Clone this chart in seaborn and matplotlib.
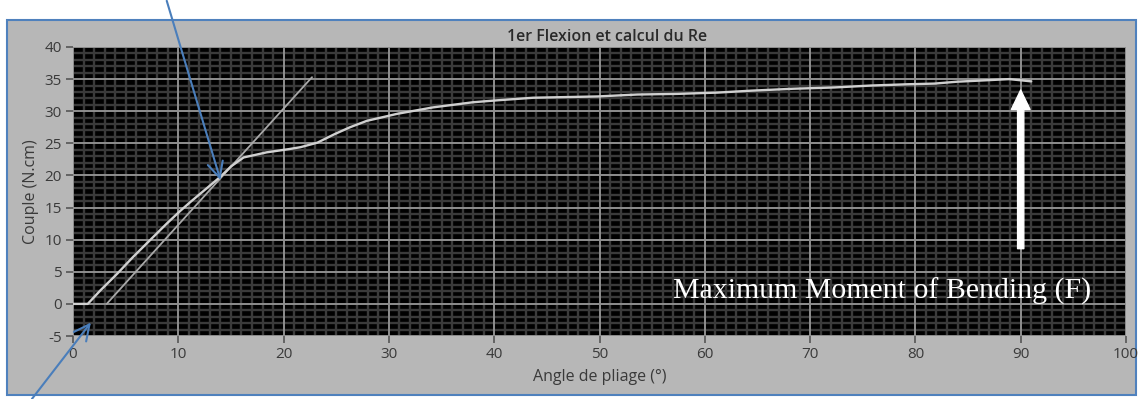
import numpy as np
import pandas as pd
import matplotlib
matplotlib.use("Agg")
import matplotlib.pyplot as plt
from matplotlib.ticker import MultipleLocator
from matplotlib.patches import Rectangle
import seaborn as sns

# ---- data ----
angle = [0, 1.4, 2.6, 4.2, 5.7, 7.3, 8.9, 10.2, 11.1, 12.7, 14.0, 15.0, 16.2, 18.4,
         20.5, 21.6, 23.2, 24.8, 26.3, 27.9, 30.8, 34.2, 38.0, 40.3, 43.7, 49.8,
         53.6, 57.4, 61.2, 64.4, 68.4, 72.3, 75.8, 79.3, 81.8, 84.0, 86.5, 88.9,
         91.0, 91.0]
couple = [0, 0, 2.1, 4.7, 7.3, 9.9, 12.5, 14.5, 15.8, 18.0, 19.8, 21.4, 22.8, 23.6,
          24.1, 24.4, 25.1, 26.4, 27.5, 28.5, 29.6, 30.6, 31.4, 31.7, 32.1, 32.3,
          32.6, 32.7, 32.9, 33.2, 33.5, 33.7, 34.0, 34.2, 34.3, 34.6, 34.8, 35.0,
          35.1, 34.2]
tangent_angle = [3.2, 22.7]
tangent_couple = [0.0, 35.3]
x_ticks = [0, 10, 20, 30, 40, 50, 60, 70, 80, 90, 100]
y_ticks = [-5, 0, 5, 10, 15, 20, 25, 30, 35, 40]
title = "1er Flexion et calcul du Re"
xlabel = "Angle de pliage (°)"
ylabel = "Couple (N.cm)"
note = "Maximum Moment of Bending (F)"

curve = pd.DataFrame({"angle": angle, "couple": couple})
tangent = pd.DataFrame({"angle": tangent_angle, "couple": tangent_couple})

sns.set_theme(style="dark")
plt.rcParams["font.family"] = ["Open Sans", "DejaVu Sans"]
plt.rcParams["axes.unicode_minus"] = False

fig = plt.figure(figsize=(11.39, 3.99), dpi=100, facecolor="white")
# grey instrument panel with blue frame
fig.patches.append(Rectangle((7 / 1139, 4 / 399), 1129 / 1139, 375 / 399,
                             transform=fig.transFigure, facecolor="#b7b7b7",
                             edgecolor="#4f81bd", lw=1.5, zorder=-5))

ax = fig.add_axes([73 / 1139, 63 / 399, 1053 / 1139, 289 / 399])
ax.set_zorder(2)
ax.set_facecolor("black")

ax.set_xlim(0, 100)
ax.set_ylim(-5, 40)
ax.set_xticks(x_ticks)
ax.set_yticks(y_ticks)
ax.xaxis.set_minor_locator(MultipleLocator(1))
ax.yaxis.set_minor_locator(MultipleLocator(1))
ax.grid(which="minor", color="#3a3a3a", lw=1.7)
ax.grid(which="major", visible=False)
ax.set_axisbelow(True)
for xv in x_ticks:
    ax.axvline(xv, color="#8e8e8e", lw=1.4, zorder=1)
for yv in y_ticks:
    ax.axhline(yv, color="#8e8e8e", lw=1.4, zorder=1)

sns.lineplot(data=tangent, x="angle", y="couple", ax=ax, color="#a8a8a8",
             lw=1.3, sort=False, zorder=3)
sns.lineplot(data=curve, x="angle", y="couple", ax=ax, color="#d0d0d0",
             lw=1.7, sort=False, zorder=4)

ax.tick_params(which="major", direction="out", length=5, width=1.2,
               color="#555555", labelcolor="#3a3a3a", labelsize=11,
               bottom=True, left=True, pad=3)
ax.tick_params(which="minor", length=0)
for s in ax.spines.values():
    s.set_visible(False)

ax.set_xlabel(xlabel, fontsize=11.5, color="#3a3a3a", labelpad=5)
ax.set_ylabel(ylabel, fontsize=11.5, color="#3a3a3a", labelpad=4)
fig.text(607 / 1139, 1 - 37 / 399, title, ha="center", va="center",
         fontsize=11.5, color="#2a2a2a", fontweight="semibold")

# white arrow to the maximum
ax.annotate("", xy=(90, 33.3), xytext=(90, 8.6),
            arrowprops=dict(facecolor="white", edgecolor="white", width=4.5,
                            headwidth=13.5, headlength=14, shrink=0),
            zorder=6)
ax.text(57.0, 2.0, note, color="white", fontsize=21.5, va="center", ha="left",
        family=["Liberation Serif", "DejaVu Serif"], zorder=6)

# blue call-out arrows
blue = "#4a7ebb"
ax.annotate("", xy=(14.0, 19.3), xytext=(8.9, 47.2), annotation_clip=False,
            arrowprops=dict(arrowstyle="->", color=blue, lw=1.5,
                            mutation_scale=28, shrinkA=0, shrinkB=0), zorder=7)
ax.annotate("", xy=(1.7, -2.9), xytext=(-3.9, -14.8), annotation_clip=False,
            arrowprops=dict(arrowstyle="->", color=blue, lw=1.5,
                            mutation_scale=28, shrinkA=0, shrinkB=0), zorder=7)

fig.savefig("out.png", dpi=100, facecolor="white")
